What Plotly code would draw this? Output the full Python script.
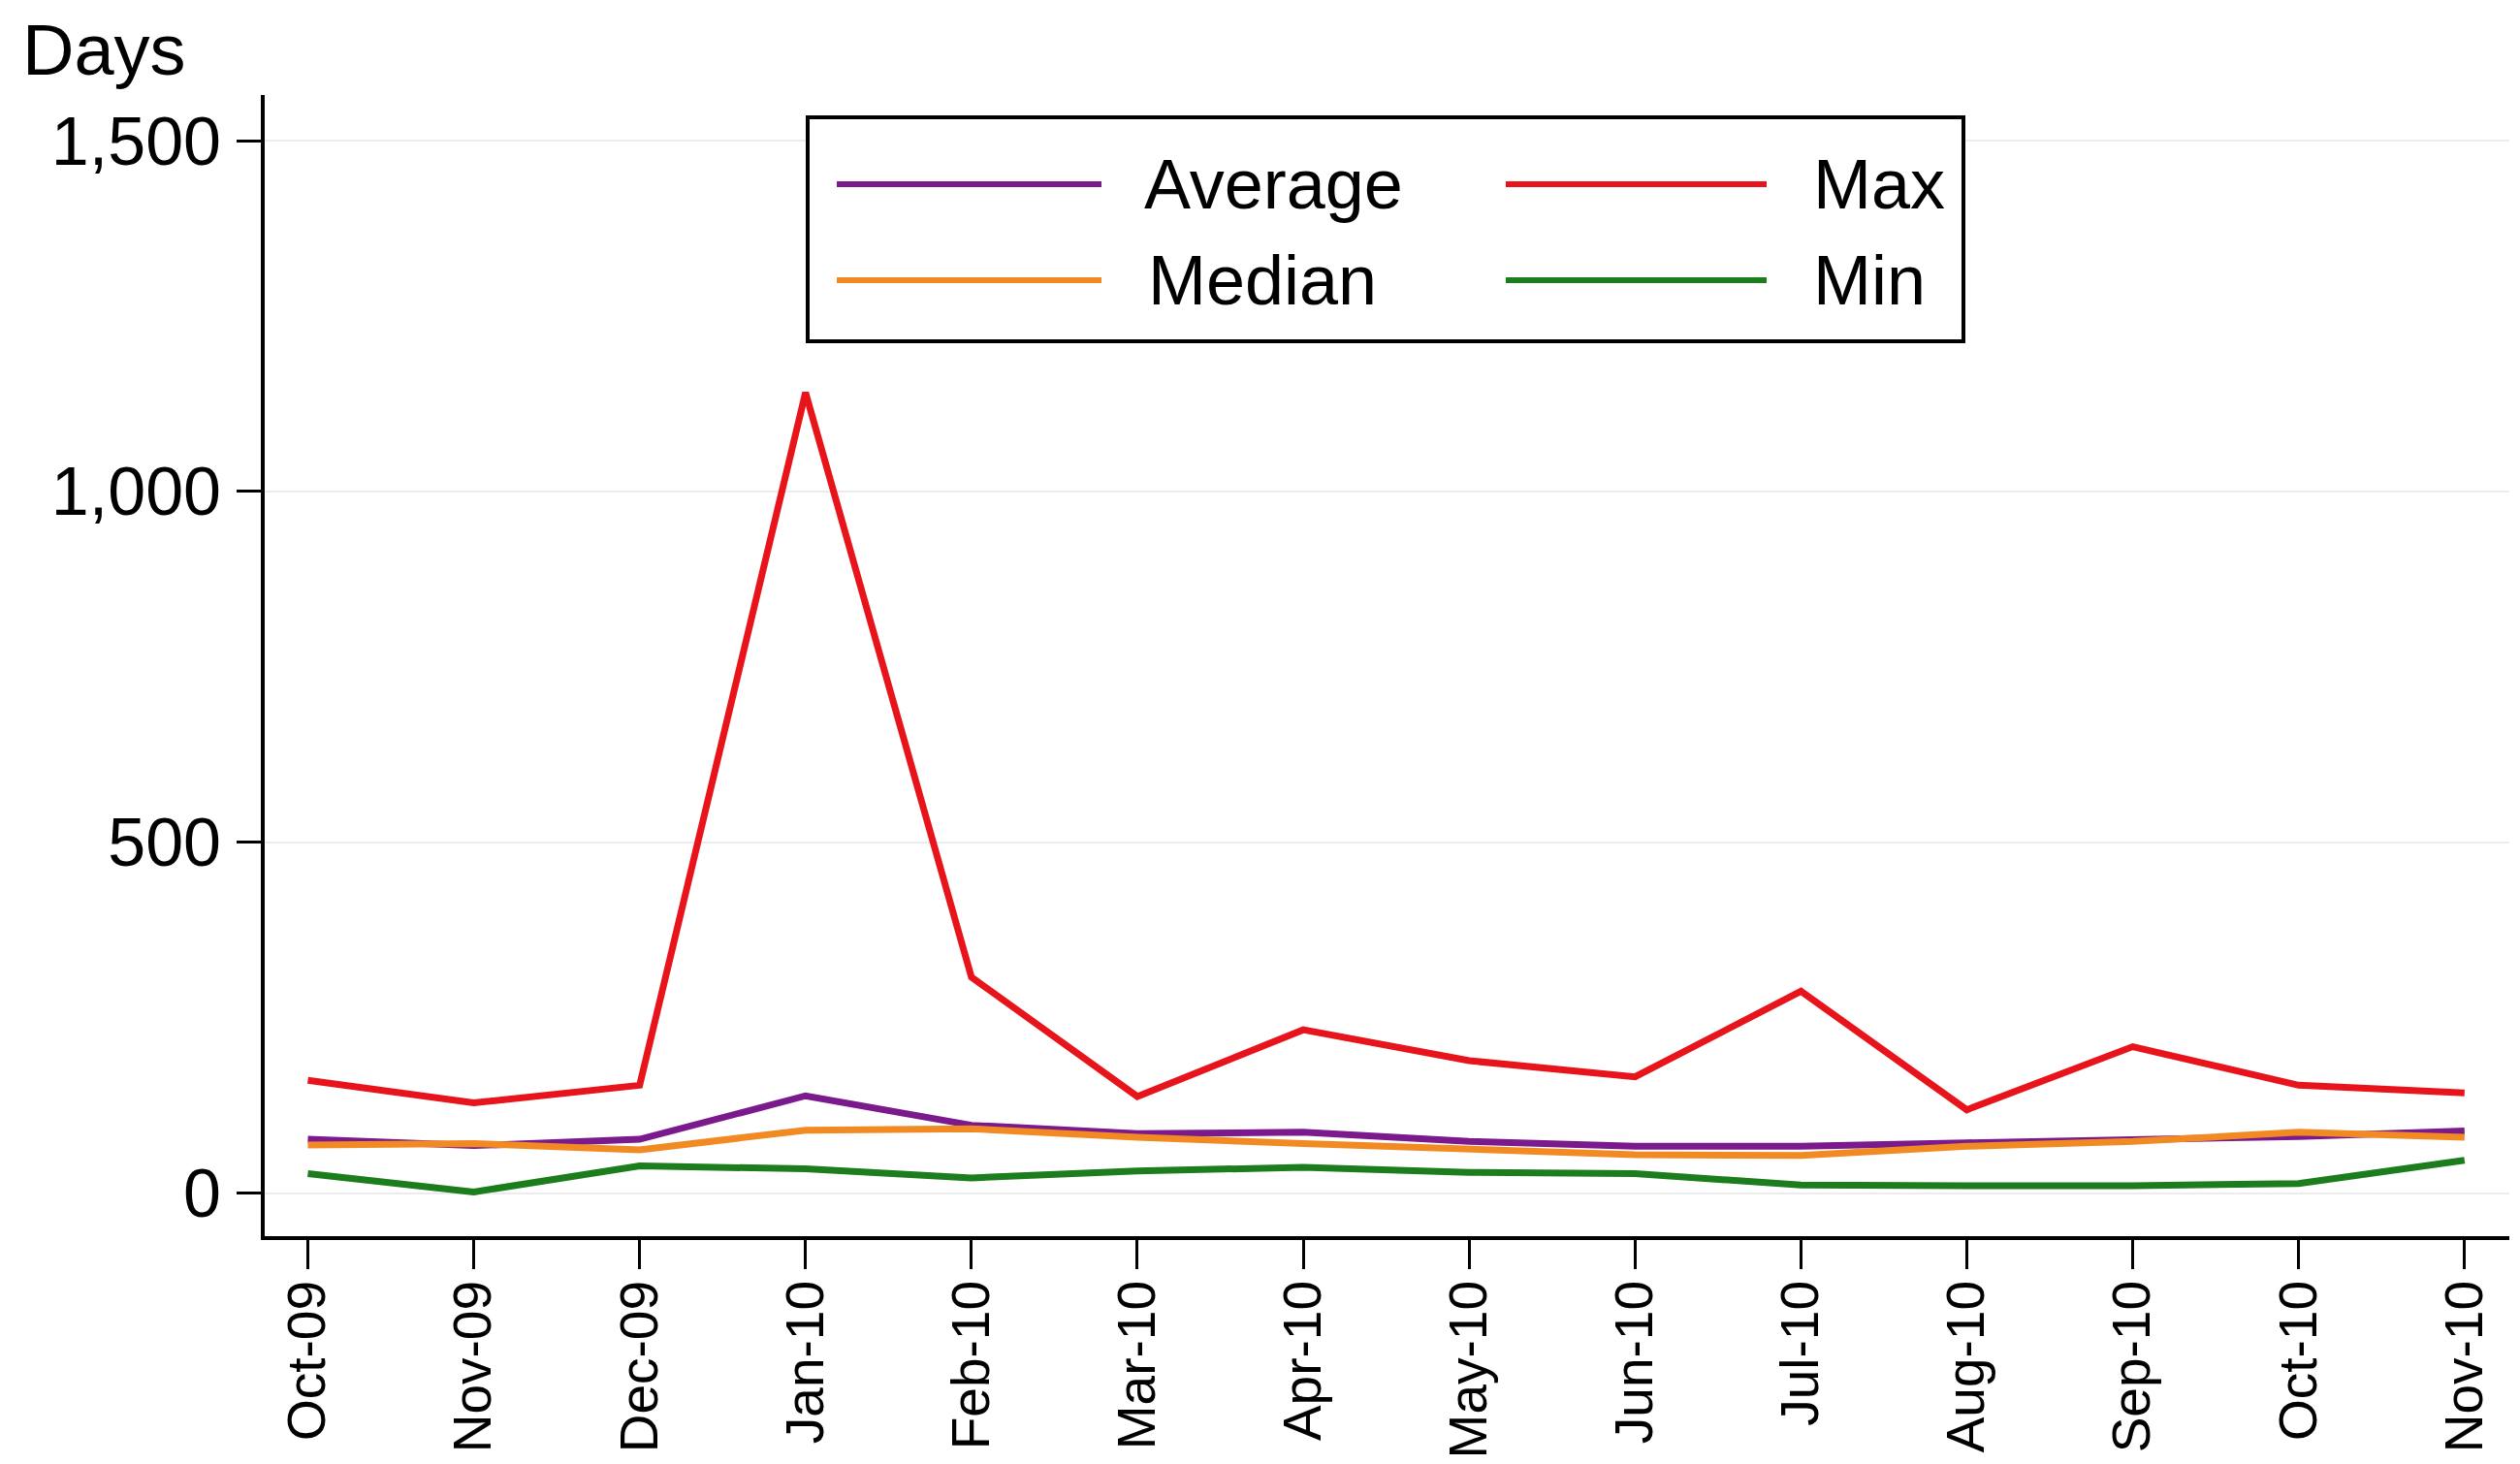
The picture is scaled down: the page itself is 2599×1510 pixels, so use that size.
import plotly.graph_objects as go

months = ["Oct-09", "Nov-09", "Dec-09", "Jan-10", "Feb-10", "Mar-10", "Apr-10",
          "May-10", "Jun-10", "Jul-10", "Aug-10", "Sep-10", "Oct-10", "Nov-10"]
average = [77, 68, 77, 139, 97, 85, 87, 74, 67, 67, 72, 76, 81, 89]
maximum = [161, 129, 154, 1141, 308, 138, 233, 189, 166, 288, 119, 209, 154, 143]
median = [69, 71, 62, 90, 92, 80, 71, 64, 55, 54, 67, 74, 87, 80]
minimum = [28, 2, 39, 35, 22, 32, 37, 30, 28, 12, 11, 11, 14, 47]

series_names = ["Average", "Max", "Median", "Min"]
series_values = [average, maximum, median, minimum]
series_colors = ["#7b1a8c", "#e8141b", "#f28a24", "#1b7d1b"]

y_tickvals = [0, 500, 1000, 1500]

# page body adds a small offset; compensate so the plot lands where the reference has it
OFFX, OFFY = 5, 8
W, H = 2599 - OFFX, 1510 - OFFY
ML, MR, MT, MB = 270 - OFFX, 14, 98 - OFFY, 235
PW, PH = W - ML - MR, H - MT - MB
FONT = "Arial, Liberation Sans, sans-serif"


def px_x(x):
    return (x - OFFX - ML) / PW


def px_y(y):
    return (H - MB - (y - OFFY)) / PH


fig = go.Figure()
for name, vals, col in zip(series_names, series_values, series_colors):
    fig.add_trace(go.Scatter(x=months, y=vals, mode="lines", name=name,
                             line=dict(color=col, width=7), showlegend=False))

shapes = []
annotations = []
# legend box
shapes.append(dict(type="rect", xref="paper", yref="paper",
                   x0=px_x(830), x1=px_x(2022), y0=px_y(352), y1=px_y(121),
                   line=dict(color="black", width=4), fillcolor="white", layer="above"))
legend_pos = {
    "Average": (860, 1133, 1175, 190),
    "Max": (1550, 1819, 1865, 190),
    "Median": (860, 1133, 1179, 289),
    "Min": (1550, 1819, 1865, 289),
}
for name, col in zip(series_names, series_colors):
    lx0, lx1, tx, ly = legend_pos[name]
    shapes.append(dict(type="line", xref="paper", yref="paper",
                       x0=px_x(lx0), x1=px_x(lx1), y0=px_y(ly), y1=px_y(ly),
                       line=dict(color=col, width=6), layer="above"))
    annotations.append(dict(text=name, xref="paper", yref="paper",
                            x=px_x(tx), y=px_y(ly), xanchor="left", yanchor="middle",
                            showarrow=False, font=dict(family=FONT, size=72, color="black")))

annotations.append(dict(text="Days", xref="paper", yref="paper",
                        x=px_x(18), y=px_y(52), xanchor="left", yanchor="middle",
                        showarrow=False, font=dict(family=FONT, size=74, color="black")))

fig.update_layout(
    width=W, height=H,
    margin=dict(l=ML, r=MR, t=MT, b=MB, pad=0, autoexpand=False),
    paper_bgcolor="white", plot_bgcolor="white",
    font=dict(family=FONT, color="black"),
    shapes=shapes, annotations=annotations,
    xaxis=dict(
        type="category", range=[-0.26, 13.27], automargin=False,
        showline=True, linecolor="black", linewidth=4,
        ticks="outside", ticklen=30, tickwidth=3, tickcolor="black",
        tickangle=-90, tickfont=dict(family=FONT, size=55, color="black"),
        showgrid=False, zeroline=False, ticklabelstandoff=-10,
    ),
    yaxis=dict(
        range=[-61, 1565], tickvals=y_tickvals, tickformat=",", automargin=False,
        showline=True, linecolor="black", linewidth=4,
        ticks="outside", ticklen=25, tickwidth=3, tickcolor="black",
        tickfont=dict(family=FONT, size=70, color="black"),
        showgrid=True, gridcolor="#ececec", gridwidth=2, zeroline=False,
        ticklabelstandoff=2,
    ),
)

fig.write_html("out.html")
